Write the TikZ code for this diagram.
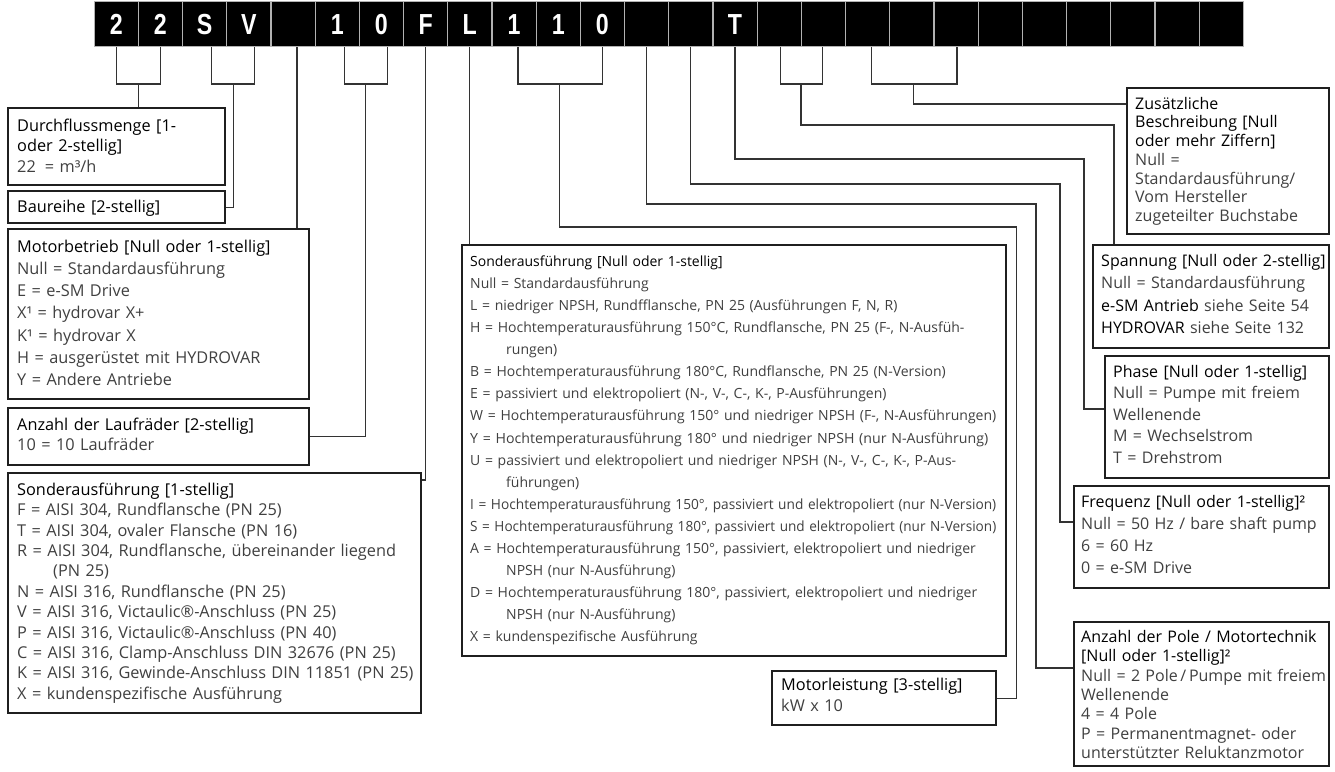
\documentclass[tikz,border=0pt]{standalone}
\usepackage{fontspec}
\usepackage{graphicx}
\setmainfont{Open Sans}
\newfontfamily\barfont{Liberation Sans}
\usetikzlibrary{calc}
\definecolor{bodyc}{gray}{0.25}
\definecolor{linec}{gray}{0.2}
\definecolor{boxc}{gray}{0.12}
\newcommand\hdr[1]{\textcolor{black}{#1}}
\newsavebox\jlbox
\newcommand\jl[1]{\sbox\jlbox{#1}\ifdim\wd\jlbox>526pt\resizebox{526pt}{\height}{\usebox\jlbox}\else\makebox[526pt][s]{#1}\fi}
\newcommand\fl[2]{\resizebox{#1}{\height}{#2}}
\newcommand\hind{\hspace*{36pt}}
\newcommand\fst{\rule{0pt}{15pt}}
\begin{document}
\begin{tikzpicture}[x=1pt,y=-1pt,
  cell/.style={draw=gray!60, fill=black, line width=1.2pt, minimum width=44.2pt, minimum height=45pt, inner sep=0pt, anchor=north west},
  celltx/.style={inner sep=0pt, text=white, font=\barfont\bfseries\fontsize{29}{29}\selectfont},
  bx/.style={draw=boxc, line width=2.3pt, fill=white, inner sep=0pt, anchor=north west},
  tx/.style={anchor=north west, inner sep=0pt, text width=600pt, align=left, text=bodyc},
  ln/.style={draw=linec, line width=1.1pt},
]
\useasboundingbox (0,0) rectangle (1335,771);
\fill[white] (0,0) rectangle (1335,771);

% ---- code bar
\foreach \i in {1,...,26} \node[cell] (c\i) at ({93.5+44.2*(\i-1)},1) {};
\foreach \i/\t in {1/2,2/2,3/S,4/V,6/1,7/0,8/F,9/L,10/1,11/1,12/0,15/T}
  \node[celltx] (l\i) at (c\i) {\scalebox{0.8}[1]{\t}};

% ---- boxes
\node[bx, minimum width=217pt, minimum height=77pt]  (D)   at (7,107) {};
\node[bx, minimum width=217pt, minimum height=32pt]  (B)   at (7,190) {};
\node[bx, minimum width=301pt, minimum height=170pt] (M)   at (7,228) {};
\node[bx, minimum width=301pt, minimum height=57pt]  (A)   at (7,407) {};
\node[bx, minimum width=413pt, minimum height=240pt] (SL)  at (7,472) {};
\node[bx, minimum width=544pt, minimum height=411pt] (MID) at (461,244) {};
\node[bx, minimum width=224pt, minimum height=54pt]  (ML)  at (771,670) {};
\node[bx, minimum width=202pt, minimum height=146pt] (Z)   at (1126,87) {};
\node[bx, minimum width=236pt, minimum height=103pt] (SP)  at (1092,244) {};
\node[bx, minimum width=224pt, minimum height=122pt] (PH)  at (1104,355) {};
\node[bx, minimum width=255pt, minimum height=102pt] (FR)  at (1073,485) {};
\node[bx, minimum width=255pt, minimum height=144pt] (PO)  at (1073,621) {};

% ---- texts
\node[tx, font=\fontsize{16.3}{20.5}\selectfont] (D-t) at (17,116)
 {\fst\hdr{Durchflussmenge [1-}\\\hdr{oder 2-stellig]}\\22\hspace{9pt}= m³/h};
\node[tx, font=\fontsize{16.3}{20.5}\selectfont] (B-t) at (17,197)
 {\fst\hdr{Baureihe [2-stellig]}};
\node[tx, font=\fontsize{16.3}{22.2}\selectfont] (M-t) at (17,237)
 {\fst\hdr{Motorbetrieb [Null oder 1-stellig]}\\
  Null = Standardausführung\\
  E = e-SM Drive\\
  X¹ = hydrovar X+\\
  K¹ = hydrovar X\\
  H = ausgerüstet mit HYDROVAR\\
  Y = Andere Antriebe};
\node[tx, font=\fontsize{16.3}{20.5}\selectfont] (A-t) at (17,415)
 {\fst\hdr{Anzahl der Laufräder [2-stellig]}\\10 = 10 Laufräder};
\node[tx, font=\fontsize{16.3}{20.4}\selectfont] (SL-t) at (17,480)
 {\fst\hdr{Sonderausführung [1-stellig]}\\
  F = AISI 304, Rundflansche (PN 25)\\
  T = AISI 304, ovaler Flansche (PN 16)\\
  R = AISI 304, Rundflansche, übereinander liegend\\
  \hind(PN 25)\\
  N = AISI 316, Rundflansche (PN 25)\\
  V = AISI 316, Victaulic®-Anschluss (PN 25)\\
  P = AISI 316, Victaulic®-Anschluss (PN 40)\\
  C = AISI 316, Clamp-Anschluss DIN 32676 (PN 25)\\
  K = AISI 316, Gewinde-Anschluss DIN 11851 (PN 25)\\
  X = kundenspezifische Ausführung};
\node[tx, font=\fontsize{14}{22.1}\selectfont] (MID-t) at (470,251)
 {\fst\hdr{Sonderausführung [Null oder 1-stellig]}\\
  Null = Standardausführung\\
  L = niedriger NPSH, Rundfflansche, PN 25 (Ausführungen F, N, R)\\
  \jl{H = Hochtemperaturausführung 150°C, Rundflansche, PN 25 (F-, N-Ausfüh-}\\
  \hind rungen)\\
  B = Hochtemperaturausführung 180°C, Rundflansche, PN 25 (N-Version)\\
  E = passiviert und elektropoliert (N-, V-, C-, K-, P-Ausführungen)\\
  \fl{526pt}{W = Hochtemperaturausführung 150° und niedriger NPSH (F-, N-Ausführungen)}\\
  \fl{518pt}{Y = Hochtemperaturausführung 180° und niedriger NPSH (nur N-Ausführung)}\\
  \jl{U = passiviert und elektropoliert und niedriger NPSH (N-, V-, C-, K-, P-Aus-}\\
  \hind führungen)\\
  \fl{526pt}{I = Hochtemperaturausführung 150°, passiviert und elektropoliert (nur N-Version)}\\
  \fl{526pt}{S = Hochtemperaturausführung 180°, passiviert und elektropoliert (nur N-Version)}\\
  \jl{A = Hochtemperaturausführung 150°, passiviert, elektropoliert und niedriger}\\
  \hind NPSH (nur N-Ausführung)\\
  \jl{D = Hochtemperaturausführung 180°, passiviert, elektropoliert und niedriger}\\
  \hind NPSH (nur N-Ausführung)\\
  X = kundenspezifische Ausführung};
\node[tx, font=\fontsize{16.3}{21}\selectfont] (ML-t) at (781,675)
 {\fst\hdr{Motorleistung [3-stellig]}\\kW x 10};
\node[tx, font=\fontsize{16}{18.7}\selectfont] (Z-t) at (1135,94)
 {\fst\hdr{Zusätzliche}\\\hdr{Beschreibung [Null}\\\hdr{oder mehr Ziffern]}\\
  Null =\\Standardausführung/\\Vom Hersteller\\zugeteilter Buchstabe};
\node[tx, font=\fontsize{16}{22.5}\selectfont] (SP-t) at (1101,251)
 {\fst\hdr{Spannung [Null oder 2-stellig]}\\
  Null = Standardausführung\\
  \hdr{e-SM Antrieb} siehe Seite 54\\
  \hdr{HYDROVAR} siehe Seite 132};
\node[tx, font=\fontsize{16}{21.5}\selectfont] (PH-t) at (1113,362)
 {\fst\hdr{Phase [Null oder 1-stellig]}\\
  Null = Pumpe mit freiem\\
  Wellenende\\
  M = Wechselstrom\\
  T = Drehstrom};
\node[tx, font=\fontsize{16}{22}\selectfont] (FR-t) at (1081,492)
 {\fst\hdr{Frequenz [Null oder 1-stellig]²}\\
  Null = 50 Hz / bare shaft pump\\
  6 = 60 Hz\\
  0 = e-SM Drive};
\node[tx, font=\fontsize{16}{19.4}\selectfont] (PO-t) at (1081,627)
 {\fst\hdr{Anzahl der Pole / Motortechnik}\\
  \hdr{[Null oder 1-stellig]²}\\
  Null = 2 Pole\,/\,Pumpe mit freiem\\
  Wellenende\\
  4 = 4 Pole\\
  P = Permanentmagnet- oder\\
  unterstützter Reluktanzmotor};

% ---- connectors
\coordinate (s3) at ([xshift=7pt]c3.south);
\coordinate (s4) at ([xshift=6pt]c4.south);
\coordinate (s5) at ([xshift=4pt]c5.south);
\coordinate (s6) at ([xshift=7pt]c6.south);
\coordinate (s7) at ([xshift=6pt]c7.south);
\coordinate (s10) at ([xshift=4pt]c10.south);
\coordinate (s16) at ([xshift=1pt]c16.south);
\coordinate (s17) at ([xshift=-1pt]c17.south);
\coordinate (s18) at ([xshift=4pt]c18.south);
\coordinate (s20) at ([xshift=1pt]c20.south);

\coordinate (j12) at (138.5,84);
\draw[ln] (c1.south) |- (j12) -| (c2.south);
\draw[ln] (j12) -- (j12 |- D.north);

\coordinate (j34) at (233.5,84);
\draw[ln] (s3) |- (j34) -| (s4);
\draw[ln] (j34) |- (B.east);

\draw[ln] (s5) -- (s5 |- M.north);

\coordinate (j67) at (365.5,84);
\draw[ln] (s6) |- (j67) -| (s7);
\draw[ln] (j67) |- (A.east);

\draw[ln] (c8.south) |- ($(SL.north east)+(0,8)$);

\draw[ln] (c9.south) -- (c9.south |- MID.north);

\coordinate (j1012) at (559.4,84);
\draw[ln] (s10) |- (j1012) -| (c12.south);
\coordinate (t1) at (1016.7,227);
\draw[ln] (j1012) |- (t1) |- (ML.east);

\coordinate (t2) at (1036,204);
\draw[ln] (c13.south) |- (t2) |- ($(PO.north west)+(0,47)$);

\coordinate (t3) at (1060,184);
\draw[ln] (c14.south) |- (t3) |- ($(FR.north west)+(0,37)$);

\coordinate (t4) at (1084,159);
\draw[ln] (c15.south) |- (t4) |- ($(PH.north west)+(0,54)$);

\coordinate (j1617) at (801,84);
\draw[ln] (s16) |- (j1617) -| (s17);
\coordinate (t5) at (1114,125);
\draw[ln] (j1617) |- (t5) -- (t5 |- SP.north);

\coordinate (j1820) at (913.5,84);
\draw[ln] (s18) |- (j1820) -| (s20);
\draw[ln] (j1820) |- ($(Z.north west)+(0,17)$);
\end{tikzpicture}
\end{document}
